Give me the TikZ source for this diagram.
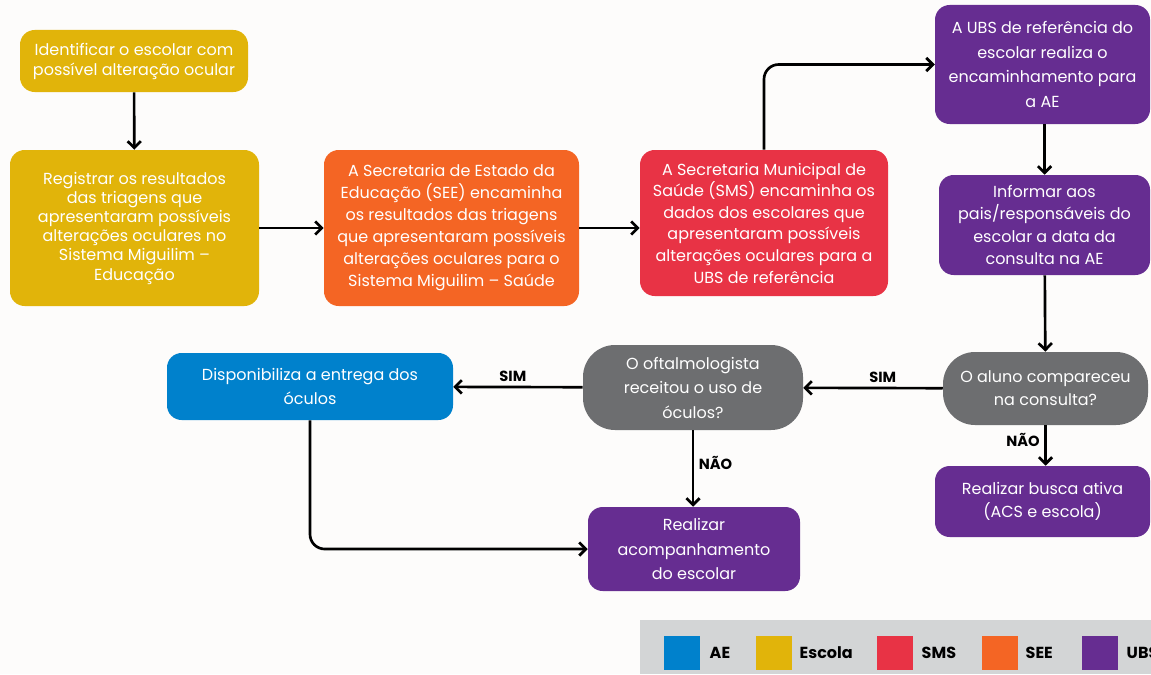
\documentclass[tikz,border=0pt]{standalone}
\usepackage{fontspec}
\setmainfont{Poppins}
\usetikzlibrary{arrows.meta}

\definecolor{aecol}{RGB}{0,129,204}
\definecolor{escolacol}{RGB}{225,180,10}
\definecolor{smscol}{RGB}{232,51,69}
\definecolor{seecol}{RGB}{244,101,36}
\definecolor{ubscol}{RGB}{102,45,145}
\definecolor{askcol}{RGB}{109,110,112}
\definecolor{keycol}{RGB}{211,213,214}
\definecolor{papercol}{RGB}{253,252,251}

\tikzset{
    stepbox/.style={rectangle, rounded corners=11pt, text=white, align=center,
        inner sep=0pt, font=\fontsize{12}{14.4}\selectfont},
    spread/.style={font=\fontsize{12}{#1}\selectfont},
    askbox/.style={stepbox, rounded corners=24pt},
    arr/.style={-{Straight Barb[length=5pt,width=10pt]}, line width=2pt, black},
    answer/.style={font=\bfseries\fontsize{11}{13}\selectfont, text=black},
    keybox/.style={fill=#1, minimum width=27pt, minimum height=25.5pt, inner sep=0pt},
    keytext/.style={font=\bfseries\fontsize{12}{14}\selectfont, anchor=west}
}

\begin{document}
\begin{tikzpicture}[x=0.75pt, y=-0.75pt]
\fill[papercol] (0,0) rectangle (1151,674);
\useasboundingbox (0,0) rectangle (1151,674);

% escola
\node[stepbox, spread=15pt, fill=escolacol, minimum width=171pt, minimum height=46.5pt] (identificar) at (134,61)
    {Identificar o escolar com\\possível alteração ocular};
\node[stepbox, fill=escolacol, minimum width=186.75pt, minimum height=117pt] (registrar) at (134.5,228)
    {Registrar os resultados\\das triagens que\\apresentaram possíveis\\alterações oculares no\\Sistema Miguilim --\\Educação};

% SEE e SMS
\node[stepbox, spread=16.5pt, fill=seecol, minimum width=191.25pt, minimum height=117pt] (see) at (451.5,228)
    {A Secretaria de Estado da\\Educação (SEE) encaminha\\os resultados das triagens\\que apresentaram possíveis\\alterações oculares para o\\Sistema Miguilim -- Saúde};
\node[stepbox, spread=16.2pt, fill=smscol, minimum width=186pt, minimum height=109.5pt] (sms) at (764,223)
    {A Secretaria Municipal de\\Saúde (SMS) encaminha os\\dados dos escolares que\\apresentaram possíveis\\alterações oculares para a\\UBS de referência};

% UBS
\node[stepbox, spread=18.5pt, fill=ubscol, minimum width=161.25pt, minimum height=89.25pt] (ubs) at (1042.5,64.5)
    {A UBS de referência do\\escolar realiza o\\encaminhamento para\\a AE};
\node[stepbox, spread=16.8pt, fill=ubscol, minimum width=158.25pt, minimum height=75pt] (informar) at (1044.5,225)
    {Informar aos\\pais/responsáveis do\\escolar a data da\\consulta na AE};
\node[askbox, spread=17.2pt, fill=askcol, minimum width=153.75pt, minimum height=54.75pt] (aluno) at (1045.5,388.5)
    {O aluno compareceu\\na consulta?};
\node[stepbox, spread=17.2pt, fill=ubscol, minimum width=161.25pt, minimum height=53.25pt] (busca) at (1042.5,501.5)
    {Realizar busca ativa\\(ACS e escola)};

% AE
\node[askbox, spread=18.4pt, fill=askcol, minimum width=165pt, minimum height=63.75pt] (oftalmo) at (693,387.5)
    {O oftalmologista\\receitou o uso de\\óculos?};
\node[stepbox, spread=18.7pt, fill=aecol, minimum width=214.5pt, minimum height=50.25pt] (oculos) at (310,386.5)
    {Disponibiliza a entrega dos\\óculos};
\node[stepbox, spread=18.4pt, fill=ubscol, minimum width=159pt, minimum height=63pt] (acompanhar) at (694,549)
    {Realizar\\acompanhamento\\do escolar};

% connectors
\draw[arr] (identificar) -- (registrar);
\draw[arr] (registrar) -- (see);
\draw[arr] (see.east) -- (sms.west|-see.east);
\draw[arr, rounded corners=11pt] (sms.north) |- (ubs.west);
\draw[arr] (ubs.south-|informar.south) -- (informar.north);
\draw[arr] (informar) -- (aluno);
\draw[arr] (aluno) -- node[answer, above, pos=0.43] {SIM} (oftalmo);
\draw[arr] (aluno.south) -- node[answer, left, pos=0.37] {NÃO} (busca.north-|aluno.south);
\draw[arr] (oftalmo) -- node[answer, above, pos=0.54] {SIM} (oculos);
\draw[arr] (oftalmo.south) -- node[answer, right, pos=0.43] {NÃO} (oftalmo.south|-acompanhar.north);
\draw[arr, rounded corners=11pt] (oculos.south) |- (acompanhar.west);

% legenda
\fill[keycol] (640,620) rectangle (1151,674);
\node[keybox=aecol] (keyae) at (682,653) {};
\node[keytext] at (705,653) {AE};
\node[keybox=escolacol] (keyescola) at (773.5,653) {};
\node[keytext] at (795,653) {Escola};
\node[keybox=smscol] (keysms) at (895,653) {};
\node[keytext] at (917,653) {SMS};
\node[keybox=seecol] (keysee) at (999.5,653) {};
\node[keytext] at (1021,653) {SEE};
\node[keybox=ubscol] (keyubs) at (1099.5,653) {};
\node[keytext] at (1122,653) {UBS};
\end{tikzpicture}
\end{document}
